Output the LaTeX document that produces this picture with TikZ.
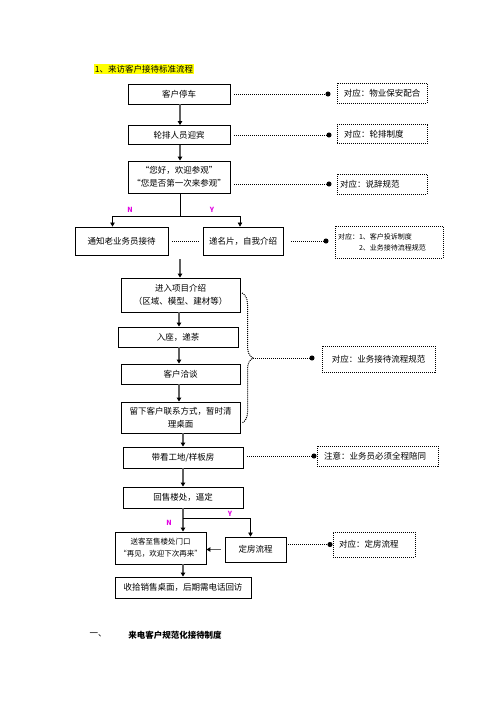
\documentclass[tikz,border=0pt]{standalone}
\usepackage{fontspec}
\setmainfont{Noto Sans CJK SC}
\usetikzlibrary{arrows.meta,positioning,calc,decorations.pathreplacing}
\definecolor{flowgray}{RGB}{95,95,95}
\definecolor{labelpink}{RGB}{225,0,225}
\definecolor{markyellow}{RGB}{255,255,0}

\begin{document}
\begin{tikzpicture}[x=1pt,y=-1pt,>=Latex,
  box/.style={draw,line width=0.9pt,align=center,inner sep=1pt,font=\fontsize{8.5}{13}\selectfont},
  note/.style={draw,densely dotted,line width=1pt,align=left,inner sep=2pt,font=\fontsize{8.5}{11}\selectfont},
  flow/.style={draw=flowgray,line width=1.3pt,-{Triangle[length=4pt,width=4.5pt,color=black]}},
  branch/.style={draw,line width=0.6pt,-{Triangle[length=4pt,width=4.5pt]}},
  dotline/.style={densely dotted,line width=1pt,-{Circle[length=5pt]}},
  yn/.style={text=labelpink,font=\fontsize{7}{8}\selectfont\bfseries}]
\useasboundingbox (0,0) rectangle (496,702);

% title
\node[fill=markyellow,inner sep=1pt,font=\fontsize{8.5}{10}\selectfont] (title) at (144,69) {1、来访客户接待标准流程};

% main column
\node[box,minimum width=102pt,minimum height=20pt] (park) at (179,94) {客户停车};
\node[box,minimum width=102pt,minimum height=19pt] (greet) at (179,135) {轮排人员迎宾};
\node[box,minimum width=102pt,minimum height=32pt] (hello) at (179,177) {“您好，欢迎参观”\\“您是否第一次来参观”};
\node[box,minimum width=93pt,minimum height=28pt] (oldstaff) at (121.5,241) {通知老业务员接待};
\node[box,minimum width=80pt,minimum height=28pt] (card) at (243,241) {递名片，自我介绍};
\node[box,minimum width=119pt,minimum height=34pt] (intro) at (180.5,295) {进入项目介绍\\（区域、模型、建材等）};
\node[box,minimum width=120pt,minimum height=20pt] (seat) at (178,337) {入座，递茶};
\node[box,minimum width=119pt,minimum height=20pt] (talk) at (180.5,374) {客户洽谈};
\node[box,minimum width=119pt,minimum height=31pt] (contact) at (180.5,417.5) {留下客户联系方式，暂时清\\理桌面};
\node[box,minimum width=120pt,minimum height=21pt] (site) at (183,457.5) {带看工地/样板房};
\node[box,minimum width=120pt,minimum height=21pt] (back) at (183,497.5) {回售楼处，逼定};
\node[box,minimum width=91pt,minimum height=32pt,font=\fontsize{7.5}{12}\selectfont] (seeoff) at (160.5,548) {送客至售楼处门口\\“再见，欢迎下次再来”};
\node[box,minimum width=61pt,minimum height=25pt] (book) at (255.5,549.5) {定房流程};
\node[box,minimum width=136pt,minimum height=21pt] (tidy) at (183,587.5) {收拾销售桌面，后期需电话回访};

% notes
\node[note,minimum width=90pt,minimum height=20pt] (n1) at (382,93) {对应：物业保安配合};
\node[note,inner xsep=7pt,text width=76pt,minimum height=19pt] (n2) at (382,134) {对应：轮排制度};
\node[note,inner xsep=3pt,text width=84pt,minimum height=20pt] (n3) at (382,184) {对应：说辞规范};
\node[note,inner xsep=3pt,text width=102pt,minimum height=32pt,font=\fontsize{7}{11}\selectfont] (n4) at (389,242) {对应：1、客户投诉制度\\\hphantom{对应：}2、业务接待流程规范};
\node[note,minimum width=113pt,minimum height=26pt] (n5) at (378.5,359) {对应：业务接待流程规范};
\node[note,inner xsep=7pt,text width=107pt,minimum height=20pt] (n6) at (377.5,456) {注意：业务员必须全程陪同};
\node[note,inner xsep=6pt,text width=70pt,minimum height=25pt] (n7) at (374,544.5) {对应：定房流程};

% bottom heading
\node[font=\fontsize{8.5}{10}\selectfont] (sec) at (98,635) {一、};
\node[font=\fontsize{8.5}{10}\selectfont\bfseries] (sechead) at (175,635) {来电客户规范化接待制度};

% flow arrows
\draw[flow] (park.south -| 180,0) -- (greet.north -| 180,0);
\draw[flow] (greet.south -| 180,0) -- (hello.north -| 180,0);
\coordinate (fork) at (180,216);
\draw[line width=0.6pt] (hello.south -| fork) -- (fork);
\draw[branch] (fork) -| ([xshift=-9pt]oldstaff.north);
\draw[branch] (fork) -| ([xshift=-3pt]card.north);
\node[yn] (no1) at (130,210) {N};
\node[yn] (yes1) at (212,210) {Y};
\draw[densely dotted,line width=1pt,shorten <=4pt,shorten >=3pt] (oldstaff.east) -- (card.west);
\coordinate (rejoin) at (180,259);
\draw[flow] (rejoin) -- (intro.north -| rejoin);
\draw[flow] (intro.south -| 179,0) -- (seat.north -| 179,0);
\draw[flow] (seat.south -| 179,0) -- (talk.north -| 179,0);
\draw[flow] (talk.south -| 179,0) -- (contact.north -| 179,0);
\draw[flow] (contact.south -| site) -- (site.north);
\draw[flow] (site.south) -- (back.north);
\coordinate (fork2) at (183,518);
\draw[flow] (back.south) -- (fork2) -- (fork2 |- seeoff.north);
\draw[branch] (fork2) -| ([xshift=-5pt]book.north);
\node[yn] (no2) at (169,523) {N};
\node[yn] (yes2) at (230,514) {Y};
\draw[flow,shorten <=4pt] (book.west) -- (book.west -| seeoff.east);
\draw[flow] (seeoff.south -| tidy) -- (tidy.north);

% dotted links to notes
\draw[dotline,shorten <=4pt,shorten >=6pt] (park.east) -- (park.east -| n1.west);
\draw[dotline,shorten <=4pt,shorten >=5pt] (greet.east) -- (greet.east -| n2.west);
\draw[dotline,shorten <=4pt,shorten >=5pt] (hello.east |- n3) -- (n3.west);
\draw[dotline,shorten <=8pt,shorten >=6pt] (card.east) -- (card.east -| n4.west);
\coordinate (bt) at (242,293);
\coordinate (bb) at (242,423);
\coordinate (bm) at (253,358);
\draw[densely dotted,line width=1pt,decorate,decoration={brace,amplitude=11pt}] (bt) -- (bb);
\draw[dotline,shorten >=7pt] (bm) -- (bm -| n5.west);
\draw[dotline,shorten <=4pt] (site.east |- n6) -- (n6.west);
\draw[dotline,shorten <=2pt] (book.east |- n7) -- (n7.west);
\end{tikzpicture}
\end{document}
